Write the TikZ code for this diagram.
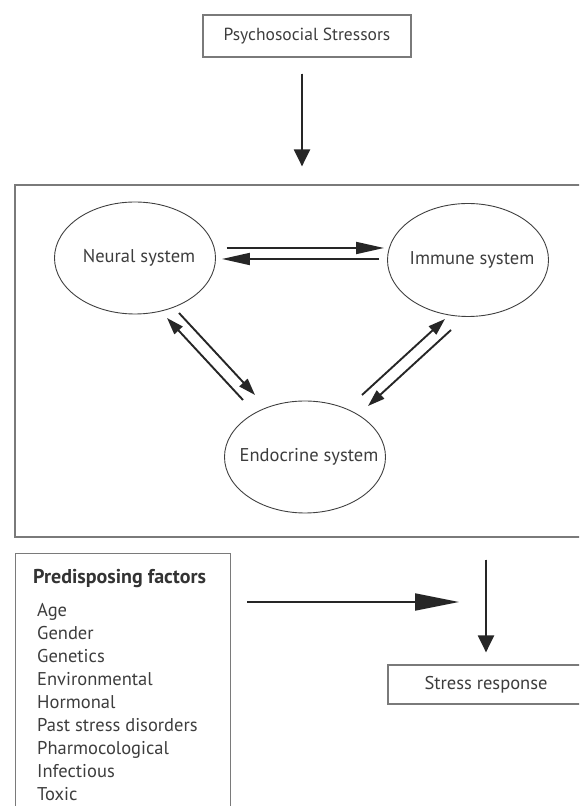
\documentclass[tikz,border=0pt]{standalone}
\usepackage{fontspec}
\setmainfont{PT Sans}
\usepackage{tikz}
\usetikzlibrary{arrows.meta,positioning,shapes.geometric}
\definecolor{txt}{HTML}{3D3D3D}
\definecolor{frame}{HTML}{7A7A7A}
\tikzstyle{box} = [rectangle, draw=frame, line width=1.2pt, inner sep=0pt, text=txt]
\tikzstyle{sys} = [ellipse, draw=black!75, line width=0.9pt, inner sep=0pt, minimum width=161pt, minimum height=112pt]
\tikzstyle{sysname} = [text=txt, xshift=4pt, inner sep=0pt]
\tikzstyle{arr} = [line width=1.9pt, draw=black!85, fill=black!85, -{Triangle[length=17pt,width=11pt]}]
\tikzstyle{harr} = [line width=1.8pt, draw=black!85, fill=black!85, -{Triangle[length=28pt,width=12pt]}]
\tikzstyle{varr} = [line width=2.2pt, draw=black!85, fill=black!85, -{Triangle[length=17pt,width=16pt]}]
\tikzstyle{parr} = [line width=2pt, draw=black!85, fill=black!85, -{Triangle[length=44pt,width=17pt]}]

\begin{document}
\begin{tikzpicture}[x=1pt, y=1pt, font=\fontsize{18.5}{22}\selectfont]
\useasboundingbox (0,0) rectangle (579,806);
\clip (0,0) rectangle (579,806);
% stressors and the three systems
\node(S)[box, minimum width=208pt, minimum height=42pt, font=\fontsize{17.5}{20}\selectfont] at (307,770) {Psychosocial Stressors};
\node(B)[box, minimum width=575pt, minimum height=352pt] at (302.5,445) {};
\node(N)[sys, label={[sysname]center:Neural system}] at (135,548) {};
\node(I)[sys, minimum height=113pt, label={[sysname]center:Immune system}] at (468,546) {};
\node(E)[sys, label={[sysname]center:Endocrine system}] at (305,349) {};
\draw[varr, shorten <=16pt, shorten >=18pt] ([xshift=-5pt]S.south) -- ([xshift=-5pt]S.south |- B.north);
\draw[harr] ([shift={(11,10)}]N.east) -- ([shift={(-3,12)}]I.west);
\draw[harr] ([shift={(-8,1)}]I.west) -- ([shift={(6,-1)}]N.east);
\draw[arr] ([shift={(-62,57)}]E.center) -- ([shift={(32,-60)}]N.center);
\draw[arr] ([shift={(44,-55)}]N.center) -- ([shift={(-50,62)}]E.center);
\draw[arr] ([shift={(57,62)}]E.center) -- ([shift={(-23,-59)}]I.center);
\draw[arr] ([shift={(-17,-70)}]I.center) -- ([shift={(63,51)}]E.center);
% factors and response
\node(F)[box, anchor=north west, minimum width=215pt, minimum height=300pt] at (15,253) {};
\node(T)[below right=16pt and 18pt of F.north west, inner sep=0pt, text=black!80, font=\fontsize{20}{22}\selectfont\bfseries] {Predisposing factors};
\node(L)[below right=15pt and 4pt of T.south west, inner sep=0pt, text=txt, align=left, font=\fontsize{18.5}{23}\selectfont] {Age\\Gender\\Genetics\\Environmental\\Hormonal\\Past stress disorders\\Pharmocological\\Infectious\\Toxic};
\node(R)[box, minimum width=196pt, minimum height=39pt] at (486,121.5) {Stress response};
\coordinate (M) at (F.north east -| R.north);
\draw[parr] ([shift={(16,-49)}]F.north east) -- ([shift={(-27,-49)}]M);
\draw[varr, shorten <=22pt, shorten >=12pt] (B.south -| R.north) -- (R.north);
\end{tikzpicture}
\end{document}
